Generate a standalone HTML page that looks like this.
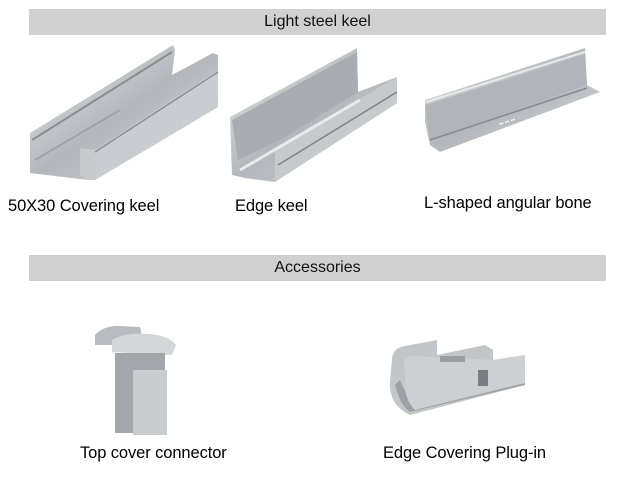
<!DOCTYPE html>
<html><head><style>
body{margin:0;width:640px;height:480px;background:#fff;position:relative;overflow:hidden;font-family:"Liberation Sans",sans-serif;}
.bar{position:absolute;left:29px;width:577px;height:26px;background:#d0d0d1;text-align:center;font-size:16px;line-height:26px;color:#111;}
.t{position:absolute;font-size:16.5px;color:#000;white-space:nowrap;letter-spacing:-0.1px;}
svg{position:absolute;left:0;top:0;}
</style></head><body>
<div class="bar" style="top:9px">Light steel keel</div>
<div class="bar" style="top:255px">Accessories</div>
<svg width="640" height="480">
<defs>
<linearGradient id="m" x1="0" y1="0" x2="1" y2="1"><stop offset="0" stop-color="#e4e6e8"/><stop offset="0.5" stop-color="#b3b7bb"/><stop offset="1" stop-color="#d3d6d9"/></linearGradient>
<linearGradient id="d" x1="0" y1="0" x2="1" y2="0"><stop offset="0" stop-color="#9ca0a5"/><stop offset="1" stop-color="#c8cbce"/></linearGradient>
</defs>
<!-- keel 1 -->
<polygon points="30,133 173,45 175,50 172,75 213,53 218,55 218,107 95,180 88,180 30,173" fill="url(#m)"/>
<polygon points="80,148 95,150 95,180 88,180 80,175" fill="#c7cacd"/>
<polygon points="95,150 218,70 218,107 95,180" fill="#c9ccd0"/>
<line x1="32" y1="140" x2="172" y2="52" stroke="#8a8e93" stroke-width="2"/>
<line x1="35" y1="160" x2="120" y2="110" stroke="#9a9ea3" stroke-width="1.5"/>
<line x1="95" y1="152" x2="218" y2="72" stroke="#8d9196" stroke-width="1.5"/>
<!-- keel 2 -->
<polygon points="230,117 357,48 358,92 397,77 397,103 275,182 245,178 232,175" fill="url(#m)"/>
<polygon points="232,120 357,52 358,92 280,140 238,160" fill="#a9adb2"/>
<polygon points="275,148 397,77 397,103 275,182" fill="#c7cacd"/>
<line x1="240" y1="170" x2="360" y2="100" stroke="#e8eaec" stroke-width="3"/>
<line x1="278" y1="165" x2="397" y2="92" stroke="#7f8388" stroke-width="1.5"/>
<!-- L bone -->
<polygon points="425,100 585,48 587,85 600,92 440,152 430,145 425,122" fill="url(#m)"/>
<polygon points="425,105 585,55 587,85 430,140" fill="#b1b5b9"/>
<line x1="426" y1="102" x2="585" y2="52" stroke="#e6e8ea" stroke-width="2"/>
<line x1="430" y1="140" x2="587" y2="88" stroke="#888c91" stroke-width="1.5"/>
<text x="500" y="126" font-size="6" fill="#fff" font-family="Liberation Sans" transform="rotate(-18 500 126)">▪▪ ▪▪ ▪▪</text>
<!-- top cover connector -->
<path d="M95,345 L95,335 Q105,325 120,326 L140,327 Q143,335 140,345 Z" fill="#b8bcc0"/>
<path d="M112,352 L112,340 Q125,332 150,334 Q170,336 176,345 L172,355 Z" fill="#d4d6d8"/>
<rect x="115" y="353" width="50" height="80" fill="#a3a7ab"/>
<rect x="133" y="370" width="34" height="65" fill="#c9cccf"/>
<!-- edge plug-in -->
<path d="M392,360 Q392,348 405,346 L437,340 L437,355 L485,345 L493,350 L493,360 L525,355 L525,385 L410,415 Q388,405 390,380 Z" fill="#c3c6c9"/>
<path d="M395,385 Q400,405 410,412 L525,385 L525,380 L420,405 Q405,395 400,380 Z" fill="#9ea2a6"/>
<path d="M405,370 Q400,360 412,356 L493,360 L525,355 L525,383 L415,410 Q405,400 405,385 Z" fill="#cdd0d3"/>
<rect x="440" y="356" width="25" height="6" fill="#9a9ea3"/>
<rect x="478" y="370" width="10" height="16" fill="#7a7e83"/>
</svg>
<div class="t" style="left:8px;top:197px">50X30 Covering keel</div>
<div class="t" style="left:235px;top:197px">Edge keel</div>
<div class="t" style="left:424px;top:194px">L-shaped angular bone</div>
<div class="t" style="left:80px;top:444px">Top cover connector</div>
<div class="t" style="left:383px;top:444px">Edge Covering Plug-in</div>
</body></html>
